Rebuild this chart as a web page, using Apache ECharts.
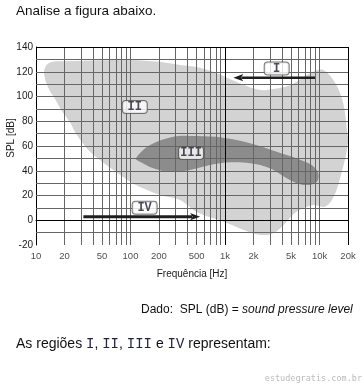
<!DOCTYPE html>
<html>
<head>
<meta charset="utf-8">
<script src="https://cdn.jsdelivr.net/npm/echarts@6/dist/echarts.min.js"></script>
<style>
html,body{margin:0;padding:0;background:#fff;}
#main{width:364px;height:387px;}
</style>
</head>
<body>
<div id="main"></div>
<script>
// ---- data ----
var xTickValues = [10, 20, 50, 100, 200, 500, 1000, 2000, 5000, 10000, 20000];
var xTickLabels = ['10', '20', '50', '100', '200', '500', '1k', '2k', '5k', '10k', '20k'];
var vGridValues = [20,30,40,50,60,70,80,90,100,200,300,400,500,600,700,800,900,2000,3000,4000,5000,6000,7000,8000,9000,10000];
var hGridValues = [-10,10,20,30,40,50,60,70,80,90,100,110,120,130];
var yMin = -20, yMax = 140, yStep = 10;
var xMin = 10, xMax = 20000;

// Region II (light gray) outline [Hz, dB]
var regionII = [[12.2,118],[12.8,125],[15,128],[20,128.5],[50,129.3],[100,129.5],[200,128],[333,125.5],[480,124],[750,120],[1220,113],[2160,105.8],[2770,105.3],[4870,109],[6700,115.5],[8600,120],[10960,121.4],[14700,110.7],[17800,94.5],[19500,73],[20000,62],[16500,34],[13900,18],[11400,11],[8600,12.3],[5750,7],[4140,-4],[3240,-10.5],[2540,-12],[1840,-9.8],[955,-1],[520,6],[333,16.4],[204,20.4],[136,25.8],[99,31.2],[66,40.6],[47.5,48.7],[35.7,56.8],[27,69],[22.9,79],[18.7,88.5],[15.9,98],[13.5,107]];
// Region III (dark gray) outline [Hz, dB]
var regionIII = [[114,50],[161,60.8],[284,67.5],[500,68],[955,66.7],[1840,62.2],[3520,55.4],[5740,50],[8260,44.6],[9700,38],[9330,31],[6750,28.5],[4500,34],[2990,42],[1840,46],[1130,46.8],[692,44.6],[426,40.6],[262,39],[174,42],[126,47.3]];
// Arrows [x0, y0, x1(tip), y1]
var arrowI = [8950, 115.2, 1225, 115.2];
var arrowIV = [31.7, 2.9, 545, 2.9];
// Region labels
var regionLabelNames = ['I', 'II', 'III', 'IV'];
var regionLabelPos = [[3520, 122.6], [111, 91.5], [437, 54.3], [141, 10.2]];

var chart = echarts.init(document.getElementById('main'), null, {renderer: 'canvas'});

function polySeries(points, color, z) {
  return {
    type: 'custom', coordinateSystem: 'cartesian2d', z: z, silent: true, clip: true,
    data: [points[0]],
    renderItem: function (params, api) {
      return {
        type: 'polygon',
        shape: {points: points.map(function (p) { return api.coord(p); }), smooth: 0.35},
        style: {fill: color}
      };
    }
  };
}

function arrowSeries(arr, width, z) {
  return {
    type: 'custom', coordinateSystem: 'cartesian2d', z: z, silent: true, clip: false,
    data: [arr],
    encode: {x: [0, 2], y: [1, 3]},
    renderItem: function (params, api) {
      var p0 = api.coord([api.value(0), api.value(1)]);
      var p1 = api.coord([api.value(2), api.value(3)]);
      var dir = p1[0] > p0[0] ? 1 : -1;
      var head = 10, half = 3.6;
      var base = [p1[0] - dir * head, p1[1]];
      return {
        type: 'group',
        children: [
          {type: 'line', shape: {x1: p0[0], y1: p0[1], x2: base[0] + dir * 2, y2: base[1]}, style: {stroke: '#1e1e1e', lineWidth: width}},
          {type: 'polygon', shape: {points: [[p1[0], p1[1]], [base[0], base[1] - half], [base[0] + dir * 2.5, base[1]], [base[0], base[1] + half]]}, style: {fill: '#1e1e1e'}}
        ]
      };
    }
  };
}

var gridMarkData = vGridValues.map(function (v) { return {xAxis: v}; })
  .concat(hGridValues.map(function (v) { return {yAxis: v}; }));

var option = {
  animation: false,
  backgroundColor: '#fff',
  textStyle: {fontFamily: '"Liberation Sans", Arial, sans-serif'},
  grid: {left: 36, right: 16, top: 47, bottom: 142, containLabel: false},
  xAxis: {
    type: 'log', logBase: 10, min: xMin, max: xMax,
    axisLine: {show: true, lineStyle: {color: '#000', width: 1}},
    axisTick: {show: false},
    axisLabel: {show: false},
    splitLine: {show: false},
    name: 'Frequência [Hz]', nameLocation: 'middle', nameGap: 24,
    nameTextStyle: {color: '#1a1a1a', fontSize: 10}
  },
  yAxis: {
    type: 'value', min: yMin, max: yMax, interval: yStep,
    axisLine: {show: true, lineStyle: {color: '#000', width: 1}},
    axisTick: {show: false},
    splitLine: {show: false},
    axisLabel: {
      color: '#1a1a1a', fontSize: 10, margin: 3,
      formatter: function (v) { return v % 20 === 0 ? String(v) : ''; }
    }
  },
  series: [
    polySeries(regionII, '#d3d3d3', 1),
    polySeries(regionIII, '#8c8c8c', 2),
    {
      type: 'line', data: [[100, 50]], symbol: 'none', lineStyle: {width: 0}, z: 3, silent: true,
      markLine: {
        silent: true, symbol: 'none', label: {show: false}, animation: false,
        emphasis: {disabled: true},
        lineStyle: {color: '#666', width: 1, type: 'solid'},
        data: gridMarkData
      }
    },
    {
      type: 'line', data: [[100, 50]], symbol: 'none', lineStyle: {width: 0}, z: 4, silent: true,
      markLine: {
        silent: true, symbol: 'none', label: {show: false}, animation: false,
        emphasis: {disabled: true},
        lineStyle: {color: '#000', width: 1, type: 'solid'},
        data: [{xAxis: 1000}, {yAxis: 0}, {yAxis: yMax}, {xAxis: xMax}]
      }
    },
    arrowSeries(arrowI, 2.6, 5),
    arrowSeries(arrowIV, 3, 5),
    {
      type: 'scatter', z: 6, silent: true, clip: false, symbolSize: 0,
      data: regionLabelPos.map(function (p, i) { return {value: p, name: regionLabelNames[i]}; }),
      label: {
        show: true, position: 'inside', formatter: '{b}',
        fontFamily: '"Liberation Mono", "Courier New", monospace', fontWeight: 'bold', fontSize: 12,
        color: '#202030', backgroundColor: '#fff', borderColor: '#555', borderWidth: 1, borderRadius: 3,
        padding: [1, 4, 0, 4], width: 16, align: 'center', lineHeight: 11
      }
    },
    {
      type: 'scatter', z: 6, silent: true, clip: false, symbolSize: 0,
      data: xTickValues.map(function (v, i) { return {value: [v, yMin], name: xTickLabels[i]}; }),
      label: {show: true, position: 'bottom', distance: 6, formatter: '{b}', color: '#1a1a1a', fontSize: 9.5}
    }
  ],
  graphic: [
    {type: 'text', left: 16, top: 4, style: {text: 'Analise a figura abaixo.', font: '13.5px "Liberation Sans", Arial', fill: '#111'}},
    {type: 'text', x: 11, y: 138, rotation: Math.PI / 2, style: {text: 'SPL [dB]', font: '10px "Liberation Sans", Arial', fill: '#1a1a1a', align: 'center', verticalAlign: 'middle'}},
    {type: 'text', x: 141, y: 309.5, style: {
      text: '{n|Dado:  SPL (dB) = }{i|sound pressure level}', verticalAlign: 'middle',
      rich: {n: {font: '12px "Liberation Sans", Arial', fill: '#111'}, i: {font: 'italic 12px "Liberation Sans", Arial', fill: '#111'}}
    }},
    {type: 'text', x: 16, y: 344, style: {
      text: '{s|As regiões }{m|I}{s|, }{m|II}{s|, }{m|III}{s| e }{m|IV}{s| representam:}', verticalAlign: 'middle',
      rich: {s: {font: '14px "Liberation Sans", Arial', fill: '#111'}, m: {font: '14px "Liberation Mono", "Courier New", monospace', fill: '#222244'}}
    }},
    {type: 'text', right: 2, top: 374, style: {text: 'estudegratis.com.br', font: '8.5px "DejaVu Sans Mono", monospace', fill: '#bbbbbb'}}
  ]
};
chart.setOption(option);
</script>
</body>
</html>
